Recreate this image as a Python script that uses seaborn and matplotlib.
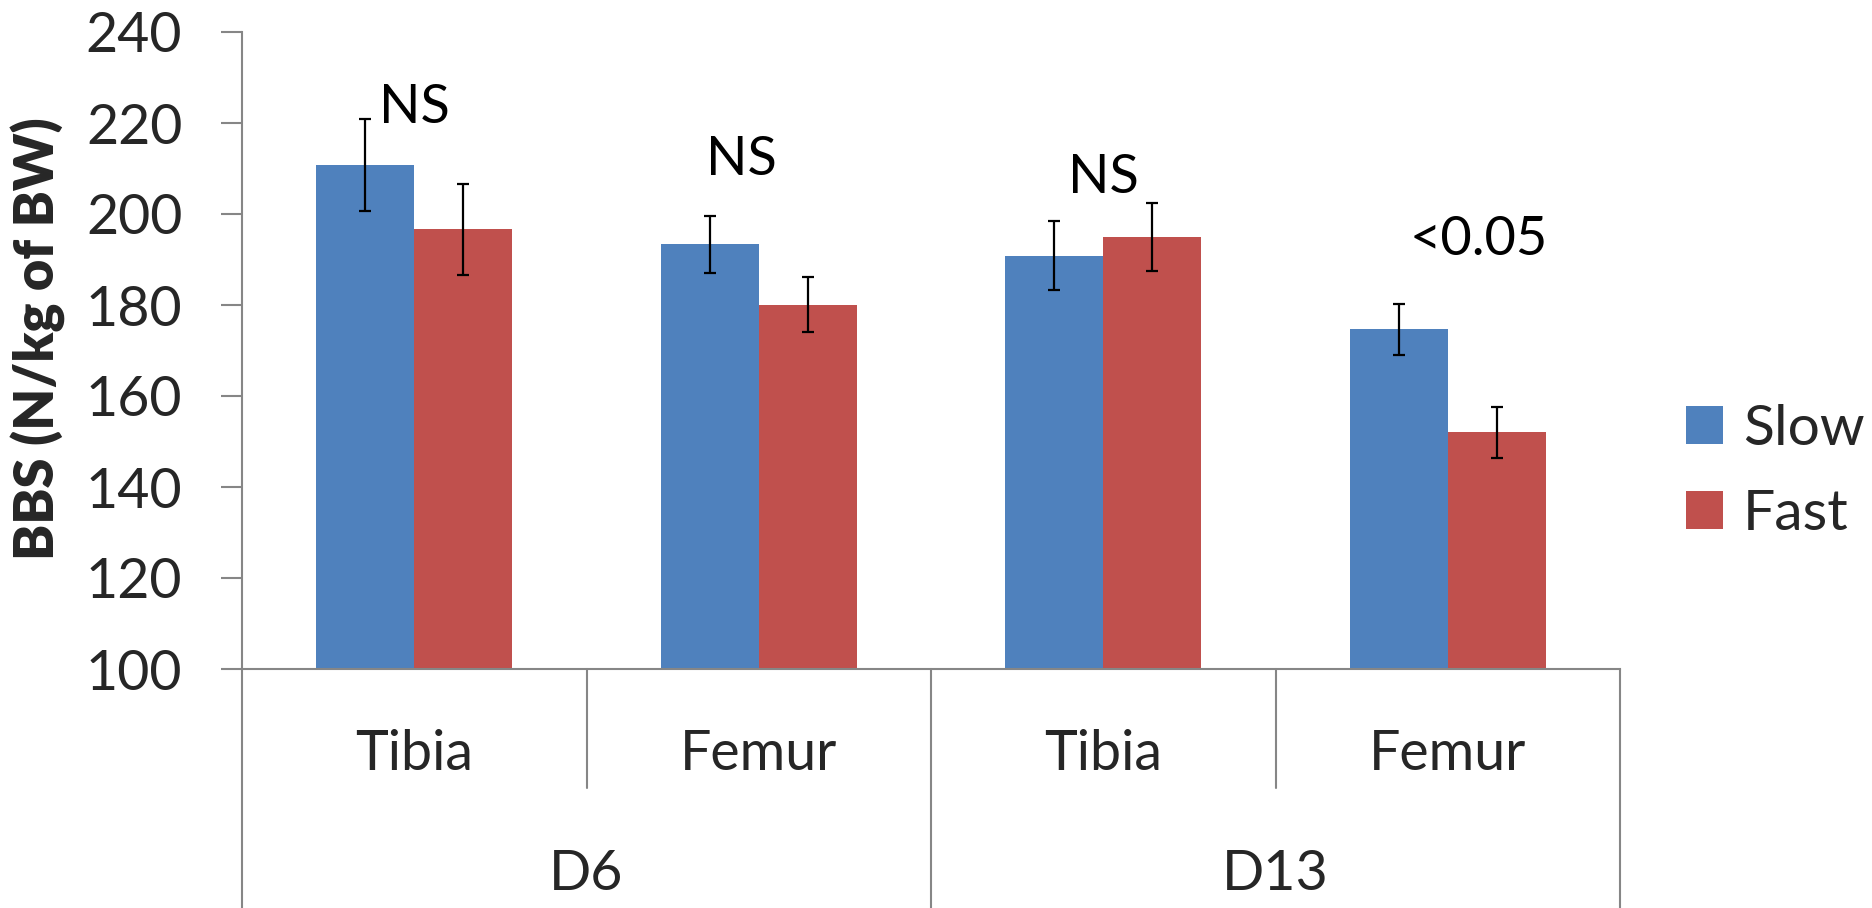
import numpy as np
import pandas as pd
import matplotlib
matplotlib.use("Agg")
import matplotlib.pyplot as plt
import seaborn as sns

# ---- data ----
days = ["D6", "D6", "D13", "D13"]
bones = ["Tibia", "Femur", "Tibia", "Femur"]
series = ["Slow", "Fast"]
slow = [210.8, 193.3, 190.8, 174.7]
fast = [196.6, 180.1, 195.0, 152.0]
slow_err = [10.1, 6.2, 7.6, 5.6]
fast_err = [10.05, 6.1, 7.5, 5.6]
annot_text = ["NS", "NS", "NS", "<0.05"]
annot_x = [0.0, 0.95, 2.0, 3.09]
annot_y = [223.5, 212.0, 208.0, 194.3]
y_ticks = [100, 120, 140, 160, 180, 200, 220, 240]
y_label = "BBS (N/kg of BW)"

colors = {"Slow": "#4F81BD", "Fast": "#C0504D"}
axis_gray = "#868686"

cats = [f"{d}|{b}" for d, b in zip(days, bones)]
df = pd.DataFrame({
    "cat": cats * 2,
    "speed": ["Slow"] * 4 + ["Fast"] * 4,
    "val": slow + fast,
    "err": slow_err + fast_err,
})

sns.set_theme(style="white")
plt.rcParams["font.family"] = ["Lato", "DejaVu Sans"]

FS = 40

fig = plt.figure(figsize=(18.72, 9.08), dpi=100)
ax = fig.add_axes([242 / 1872, 1 - 669 / 908, (1620 - 242) / 1872, (669 - 32) / 908])

sns.barplot(data=df, x="cat", y="val", hue="speed", order=cats, hue_order=series,
            palette=colors, width=0.57, errorbar=None, saturation=1, ax=ax,
            edgecolor="none", linewidth=0)

# error bars at the bar centres given by the library
for cont, errs in zip(ax.containers, [slow_err, fast_err]):
    xs = [p.get_x() + p.get_width() / 2 for p in cont.patches]
    hs = [p.get_height() for p in cont.patches]
    ax.errorbar(xs, hs, yerr=errs, fmt="none", ecolor="black", elinewidth=1.6,
                capsize=4, capthick=1.6, zorder=5)

ax.set_ylim(100, 240)
ax.set_yticks(y_ticks)
ax.set_xlim(-0.5, len(cats) - 0.5)
ax.set_xticks([])
ax.set_xlabel("")
ax.set_ylabel(y_label, fontsize=39, fontweight="heavy")
ax.yaxis.set_label_coords(-0.128, 0.519)
ax.tick_params(axis="y", labelsize=FS, length=15, width=1.5, color=axis_gray,
               pad=28, direction="out", left=True)
for s in ["top", "right"]:
    ax.spines[s].set_visible(False)
for s in ["left", "bottom"]:
    ax.spines[s].set_color(axis_gray)
    ax.spines[s].set_linewidth(1.5)
ax.grid(False)

# significance labels
for t, x, y in zip(annot_text, annot_x, annot_y):
    ax.text(x, y, t, ha="center", va="center", fontsize=FS - 1, color="black")

# multi-level category axis
tr = ax.get_xaxis_transform()
inner_bottom = (669 - 788) / 637
outer_bottom = (669 - 908) / 637
n = len(cats)
for i in range(n + 1):
    xb = i - 0.5
    is_outer = (i == 0) or (i == n) or (days[i - 1] != days[i])
    yb = outer_bottom if is_outer else inner_bottom
    ax.plot([xb, xb], [0, yb], color=axis_gray, lw=1.5, transform=tr, clip_on=False)
for i, b in enumerate(bones):
    ax.text(i, (669 - 755) / 637, b, transform=tr, ha="center", va="center", fontsize=FS)
uniq_days = list(dict.fromkeys(days))
for d in uniq_days:
    idx = [i for i, dd in enumerate(days) if dd == d]
    ax.text(np.mean(idx), (669 - 875) / 637, d, transform=tr, ha="center", va="center",
            fontsize=FS)

# legend
handles, labels = ax.get_legend_handles_labels()
ax.legend(handles, labels, loc="center left", bbox_to_anchor=(1686 / 1872, 1 - 472 / 908),
          bbox_transform=fig.transFigure, frameon=False, fontsize=41,
          handlelength=0.65, handleheight=0.65, handletextpad=0.35, labelspacing=0.6,
          borderpad=0, borderaxespad=0)

fig.savefig("out.png", dpi=100)
